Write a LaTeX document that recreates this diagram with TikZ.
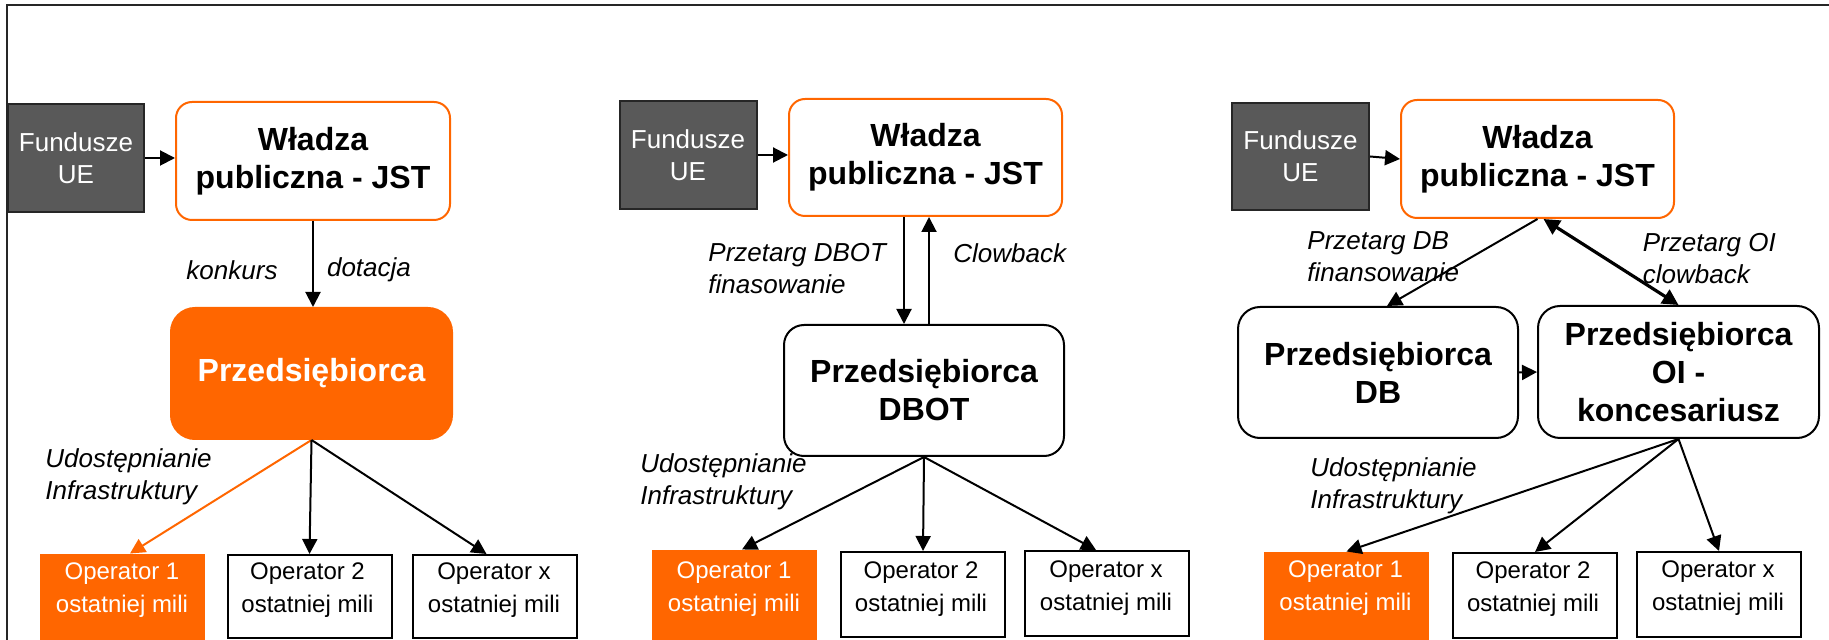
\documentclass[tikz,border=0pt]{standalone}
\usepackage{fontspec}
\setmainfont{Liberation Sans}
\usetikzlibrary{arrows.meta,calc}
\definecolor{orng}{HTML}{FF6600}
\definecolor{fgray}{HTML}{595959}
\begin{document}
\begin{tikzpicture}[x=0.5pt,y=-0.5pt,
  fund/.style={draw=black!85, line width=1pt, fill=fgray, text=white,
    font=\fontsize{13}{16}\selectfont, align=center, inner sep=0pt},
  jst/.style={draw=orng, line width=1pt, rounded corners=8pt, fill=white,
    font=\fontsize{16}{19}\selectfont\bfseries, align=center, inner sep=0pt},
  ent/.style={draw=black, line width=1pt, rounded corners=11pt, fill=white,
    font=\fontsize{16}{19}\selectfont\bfseries, align=center, inner sep=0pt},
  entor/.style={draw=orng, line width=1pt, rounded corners=12pt, fill=orng, text=white,
    font=\fontsize{16}{19}\selectfont\bfseries, align=center, inner sep=0pt},
  opbox/.style={draw=black, line width=1pt, fill=white, inner sep=0pt,
    minimum width=82pt},
  opor/.style={draw=orng, line width=0.5pt, fill=orng, inner sep=0pt,
    minimum width=82pt},
  optext/.style={font=\fontsize{12}{16.5}\selectfont, align=center, inner sep=0pt},
  lbl/.style={font=\fontsize{13}{16}\selectfont\itshape, align=left, inner sep=0pt},
  arr/.style={draw=black, line width=1pt, -{Triangle[length=7.5pt,width=7.5pt]}},
  oarr/.style={draw=orng, line width=1pt, -{Triangle[length=7.5pt,width=7.5pt]}},
  darr/.style={draw=black, line width=1.6pt, {Triangle[length=8pt,width=8pt]}-{Triangle[length=8pt,width=8pt]}},
  frame/.style={draw=black!85, line width=1pt}
]
\useasboundingbox (0,0) rectangle (1829,640);
\coordinate (fbl) at (7,640);
\coordinate (ftl) at (7,5);
\coordinate (ftr) at (1829,5);
\draw[frame] (fbl) -- (ftl) -- (ftr);

% ---------------- Panel 1 ----------------
\node[fund, minimum width=68pt, minimum height=54pt] (fu1) at (76,158) {Fundusze\\UE};
\node[jst, minimum width=137pt, minimum height=59pt] (w1) at (313,161) {Władza\\publiczna - JST};
\node[entor, minimum width=140.5pt, minimum height=65.5pt] (p1) at (311.5,373.5) {Przedsiębiorca};
\node[opor, minimum height=43pt] (o11) at (122,597) {};
\node[opbox, minimum height=41.5pt] (o12) at (309.5,596.5) {};
\node[opbox, minimum height=41.5pt] (o13) at (494.5,596.5) {};
\node[optext, text=white] (t11) at (122,590) {Operator 1\\ostatniej mili};
\node[optext] (t12) at (307.5,590) {Operator 2\\ostatniej mili};
\node[optext] (t13) at (494,590) {Operator x\\ostatniej mili};
\node[lbl] (k1) at (232,270) {konkurs};
\node[lbl] (d1) at (369,270) {dotacja};
\node[lbl, anchor=west] (u1) at (45,477) {Udostępnianie\\Infrastruktury};
\draw[arr] (fu1.east) -- (w1.west |- fu1.east);
\draw[arr] (w1.south) -- (w1.south |- p1.north);
\draw[oarr] (p1.south) -- ($(o11.north)+(8,0)$);
\draw[arr] (p1.south) -- (o12.north);
\draw[arr] (p1.south) -- ($(o13.north)+(-8,0)$);

% ---------------- Panel 2 ----------------
\node[fund, minimum width=68.5pt, minimum height=54pt] (fu2) at (688,155) {Fundusze\\UE};
\node[jst, minimum width=136.5pt, minimum height=58.5pt] (w2) at (925.5,157.5) {Władza\\publiczna - JST};
\node[ent, rounded corners=10pt, minimum width=140pt, minimum height=65.5pt] (p2) at (924,390.5) {Przedsiębiorca\\DBOT};
\node[opor, minimum height=45pt] (o21) at (734,595) {};
\node[opbox, minimum height=42.5pt] (o22) at (923,594.5) {};
\node[opbox, minimum height=42.5pt] (o23) at (1107,593.5) {};
\node[optext, text=white] (t21) at (734,589) {Operator 1\\ostatniej mili};
\node[optext] (t22) at (921,589.5) {Operator 2\\ostatniej mili};
\node[optext] (t23) at (1106,588.5) {Operator x\\ostatniej mili};
\node[lbl, anchor=west] (l21) at (708,269) {Przetarg DBOT\\finasowanie};
\node[lbl, anchor=west] (l22) at (953,253) {Clowback};
\node[lbl, anchor=west] (u2) at (640,482) {Udostępnianie\\Infrastruktury};
\draw[arr] (fu2.east) -- (w2.west |- fu2.east);
\draw[arr] (w2.south -| 904,0) -- (p2.north -| 904,0);
\draw[arr] (p2.north -| 929,0) -- (w2.south -| 929,0);
\draw[arr] (p2.south) -- ($(o21.north)+(8,0)$);
\draw[arr] (p2.south) -- (o22.north);
\draw[arr] (p2.south) -- ($(o23.north)+(-11,0)$);

% ---------------- Panel 3 ----------------
\node[fund, minimum width=68.5pt, minimum height=53.5pt] (fu3) at (1300.5,156.5) {Fundusze\\UE};
\node[jst, minimum width=136.5pt, minimum height=59pt] (w3) at (1537.5,159) {Władza\\publiczna - JST};
\node[ent, minimum width=140pt, minimum height=65.5pt] (db) at (1378,372.5) {Przedsiębiorca\\DB};
\node[ent, minimum width=140.5pt, minimum height=66pt] (oi) at (1678.5,372) {Przedsiębiorca\\OI -\\koncesariusz};
\node[opor, minimum height=44pt] (o31) at (1346.5,596) {};
\node[opbox, minimum height=42.5pt] (o32) at (1535,595.5) {};
\node[opbox, minimum height=42.5pt] (o33) at (1719,594.5) {};
\node[optext, text=white] (t31) at (1345.5,588.5) {Operator 1\\ostatniej mili};
\node[optext] (t32) at (1533,589.5) {Operator 2\\ostatniej mili};
\node[optext] (t33) at (1718,588.5) {Operator x\\ostatniej mili};
\node[lbl, anchor=west] (l31) at (1307,257) {Przetarg DB\\finansowanie};
\node[lbl, anchor=west] (l32) at (1642.5,259) {Przetarg OI\\clowback};
\node[lbl, anchor=west] (u3) at (1310,486) {Udostępnianie\\Infrastruktury};
\draw[arr] (fu3.east) -- (w3.west);
\draw[arr] (w3.south) -- ($(db.north)+(9,0)$);
\draw[darr] ($(w3.south)+(6,0)$) -- (oi.north);
\draw[arr] (db.east) -- (oi.west);
\draw[arr] (oi.south) -- (o31.north);
\draw[arr] (oi.south) -- (o32.north);
\draw[arr] (oi.south) -- (o33.north);
\end{tikzpicture}
\end{document}
